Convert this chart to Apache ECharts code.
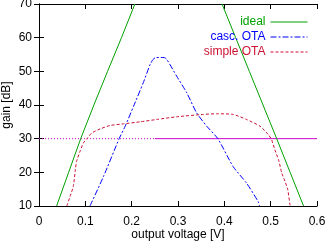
<!DOCTYPE html>
<html>
<head>
<meta charset="utf-8">
<script src="https://cdn.jsdelivr.net/npm/echarts@6/dist/echarts.min.js"></script>
<style>
  html, body { margin: 0; padding: 0; background: #fff; }
  #chart { width: 327px; height: 245px; }
</style>
</head>
<body>
<div id="chart"></div>
<script>
// output voltage [V] / gain [dB]
var idealRiseV = [0.038, 0.064, 0.090, 0.1185, 0.148, 0.178, 0.207];
var idealRiseG = [10, 20, 30, 40, 50, 60, 70];
var idealFallV = [0.395, 0.4245, 0.454, 0.4835, 0.513, 0.542, 0.571];
var idealFallG = [70, 60, 50, 40, 30, 20, 10];

var cascV = [0.110, 0.139, 0.173, 0.186, 0.204, 0.225, 0.240, 0.246, 0.252, 0.270, 0.276, 0.297, 0.319, 0.340, 0.362, 0.386, 0.419, 0.448, 0.473, 0.476];
var cascG = [10, 18.7, 30, 33.7, 39.6, 46.6, 52.1, 53.5, 54.1, 54.1, 53.5, 48.6, 43.6, 37.7, 33.7, 30, 21.7, 16.8, 11.3, 10];

var simpleV = [0.060, 0.067, 0.074, 0.078, 0.081, 0.0885, 0.0956, 0.103, 0.114, 0.132, 0.153, 0.182, 0.218, 0.254, 0.297, 0.355, 0.383, 0.419, 0.448, 0.477, 0.495, 0.502, 0.509, 0.517, 0.524, 0.531, 0.537, 0.542];
var simpleG = [10, 12.8, 15.8, 20.2, 23.2, 26.2, 28.7, 29.9, 31.7, 32.9, 33.9, 34.4, 35, 35.7, 36.5, 37.2, 37.4, 37.2, 35.7, 33.7, 31.2, 29.7, 26.7, 23.7, 19.8, 17.3, 14.8, 10];

// 30 dB reference line: dotted part, then solid part
var refDotV = [0, 0.25];
var refSolidV = [0.25, 0.6];
var refG = 30;

var xTicks = [0, 0.1, 0.2, 0.3, 0.4, 0.5, 0.6];
var yTicks = [10, 20, 30, 40, 50, 60, 70];

function pairs(xs, ys) {
  return xs.map(function (x, i) { return [x, ys[i]]; });
}

var green = '#00a000', blue = '#0000ff', red = '#cc1133', magenta = '#cc00cc';
var font = 'Liberation Sans, Arial, sans-serif';

var chart = echarts.init(document.getElementById('chart'), null, { renderer: 'canvas' });

var axisBase = {
  axisLine: { lineStyle: { color: '#000', width: 1 } },
  axisTick: { inside: true, length: 5, lineStyle: { color: '#000' } },
  splitLine: { show: false }
};

chart.setOption({
  animation: false,
  backgroundColor: '#fff',
  grid: { left: 39, right: 10, top: 4, bottom: 39, containLabel: false, outerBoundsMode: 'none' },
  legend: {
    orient: 'vertical',
    right: 14,
    top: 11,
    align: 'right',
    itemWidth: 37,
    itemHeight: 10,
    itemGap: 3,
    itemStyle: { opacity: 0 },
    lineStyle: { width: 1 },
    textStyle: { fontFamily: font, fontSize: 12 },
    data: [
      { name: 'ideal', textStyle: { color: green } },
      { name: 'casc. OTA', textStyle: { color: blue } },
      { name: 'simple OTA', textStyle: { color: red } }
    ]
  },
  xAxis: [
    Object.assign({}, axisBase, {
      type: 'value', min: 0, max: 0.6, interval: 0.1,
      name: 'output voltage [V]', nameLocation: 'middle', nameGap: 23,
      nameMoveOverlap: false,
      nameTextStyle: { fontFamily: font, fontSize: 12, color: '#000' },
      axisLabel: {
        fontFamily: font, fontSize: 12, color: '#000', margin: 10,
        formatter: function (v) { return xTicks.indexOf(Math.round(v * 10) / 10) >= 0 ? String(Math.round(v * 10) / 10) : ''; }
      }
    }),
    Object.assign({}, axisBase, {
      type: 'value', min: 0, max: 0.6, interval: 0.1, position: 'top',
      axisLabel: { show: false }
    })
  ],
  yAxis: [
    Object.assign({}, axisBase, {
      type: 'value', min: 10, max: 70, interval: 10,
      name: 'gain [dB]', nameLocation: 'middle', nameGap: 26, nameRotate: 90,
      nameMoveOverlap: false,
      nameTextStyle: { fontFamily: font, fontSize: 12, color: '#000' },
      axisLabel: { fontFamily: font, fontSize: 12, color: '#000', margin: 7 }
    }),
    Object.assign({}, axisBase, {
      type: 'value', min: 10, max: 70, interval: 10, position: 'right',
      axisLabel: { show: false }
    })
  ],
  series: [
    {
      name: 'ref', type: 'line', symbol: 'none', silent: true,
      data: pairs(refDotV, [refG, refG]),
      lineStyle: { color: magenta, width: 1, type: [1, 2] }
    },
    {
      name: 'ref', type: 'line', symbol: 'none', silent: true,
      data: pairs(refSolidV, [refG, refG]),
      lineStyle: { color: magenta, width: 1 }
    },
    {
      name: 'ideal', type: 'line', symbol: 'none', color: green,
      data: pairs(idealRiseV, idealRiseG),
      lineStyle: { color: green, width: 1 }
    },
    {
      name: 'ideal', type: 'line', symbol: 'none', color: green,
      data: pairs(idealFallV, idealFallG),
      lineStyle: { color: green, width: 1 }
    },
    {
      name: 'casc. OTA', type: 'line', symbol: 'none', color: blue, smooth: 0.2,
      data: pairs(cascV, cascG),
      lineStyle: { color: blue, width: 1, type: [6, 2, 2, 2] }
    },
    {
      name: 'simple OTA', type: 'line', symbol: 'none', color: red, smooth: 0.2,
      data: pairs(simpleV, simpleG),
      lineStyle: { color: red, width: 1, type: [3, 2] }
    }
  ]
});
</script>
</body>
</html>
